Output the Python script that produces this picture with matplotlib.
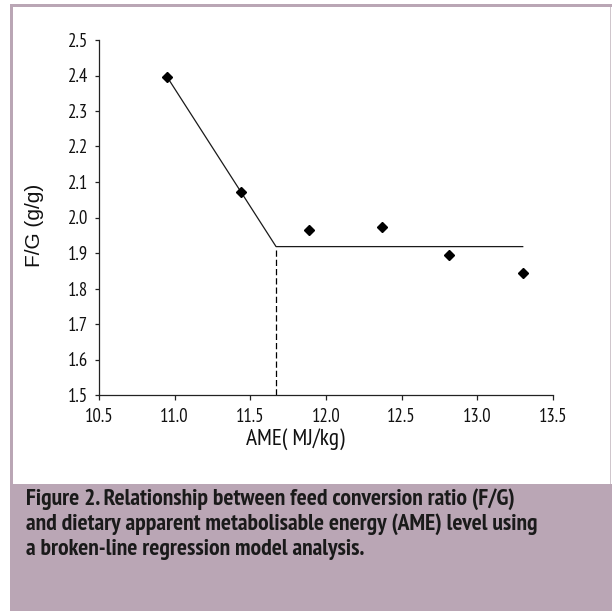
import matplotlib
matplotlib.use("Agg")
import matplotlib.pyplot as plt
from matplotlib.patches import Rectangle

# ---- data ----
ame = [10.95, 11.44, 11.89, 12.37, 12.81, 13.30]
fg = [2.396, 2.071, 1.964, 1.972, 1.894, 1.843]
fit_x = [10.95, 11.67, 13.30]
fit_y = [2.396, 1.918, 1.918]
breakpoint_x = 11.67
plateau_y = 1.918
xticks = [10.5, 11.0, 11.5, 12.0, 12.5, 13.0, 13.5]
yticks = [1.5, 1.6, 1.7, 1.8, 1.9, 2.0, 2.1, 2.2, 2.3, 2.4, 2.5]
xlabel = "AME( MJ/kg)"
ylabel = "F/G (g/g)"
caption = ["Figure 2. Relationship between feed conversion ratio (F/G)",
           "and dietary apparent metabolisable energy (AME) level using",
           "a broken-line regression model analysis."]

narrow = ["PT Sans Narrow", "Liberation Sans", "DejaVu Sans"]
regular = ["Liberation Sans", "DejaVu Sans"]

W, H = 612, 611
fig = plt.figure(figsize=(W / 100, H / 100), dpi=100)
fig.patch.set_facecolor("white")

mauve = "#baa6b5"
def px_rect(x0, y0, x1, y1, **kw):
    fig.patches.append(Rectangle((x0 / W, 1 - y1 / H), (x1 - x0) / W, (y1 - y0) / H,
                                 transform=fig.transFigure, figure=fig, **kw))

# frame bands
px_rect(10, 4, 612, 7, facecolor=mauve, edgecolor="none")
px_rect(10, 4, 13, 484, facecolor=mauve, edgecolor="none")
px_rect(610, 7, 611, 484, facecolor="#cfc6cc", edgecolor="none")
# caption box
px_rect(10, 484, 612, 611, facecolor=mauve, edgecolor="none")

ax = fig.add_axes([99 / W, 1 - 395 / H, 454 / W, 355 / H])
ax.set_xlim(10.5, 13.5)
ax.set_ylim(1.5, 2.5)
ax.plot(fit_x, fit_y, color="#1a1a1a", lw=0.9, zorder=2)
ax.plot([breakpoint_x, breakpoint_x], [1.5, plateau_y], color="black", lw=0.9,
        linestyle=(0, (5, 2.4)), zorder=2)
ax.plot(ame, fg, linestyle="none", marker="D", markersize=5, color="black", zorder=3)

ax.set_xticks(xticks)
ax.set_xticklabels([f"{v:.1f}" for v in xticks])
ax.set_yticks(yticks)
ax.set_yticklabels([f"{v:.1f}" for v in yticks])
for s in ["top", "right"]:
    ax.spines[s].set_visible(False)
for s in ["left", "bottom"]:
    ax.spines[s].set_linewidth(0.9)
    ax.spines[s].set_color("#222222")
ax.tick_params(axis="x", direction="out", length=3.6, width=0.9, pad=6, colors="#222222")
ax.tick_params(axis="y", direction="out", length=3.0, width=0.9, pad=5, colors="#222222")
for lab in ax.get_xticklabels() + ax.get_yticklabels():
    lab.set_fontfamily(narrow)
    lab.set_fontsize(13.5)
    lab.set_color("#111111")

fig.text(295.5 / W, 1 - 445 / H, xlabel, ha="center", va="baseline",
         fontsize=16.8, family=narrow, color="#111111")
fig.text(35 / W, 1 - 225 / H, ylabel, ha="center", va="center", rotation=90,
         fontsize=15, family=regular, color="#111111")

for i, line in enumerate(caption):
    fig.text(26 / W, 1 - (505 + 25 * i) / H, line, ha="left", va="baseline",
             fontsize=17, family=narrow, weight="bold", color="#1a1a1a")

fig.savefig("out.png", dpi=100)
